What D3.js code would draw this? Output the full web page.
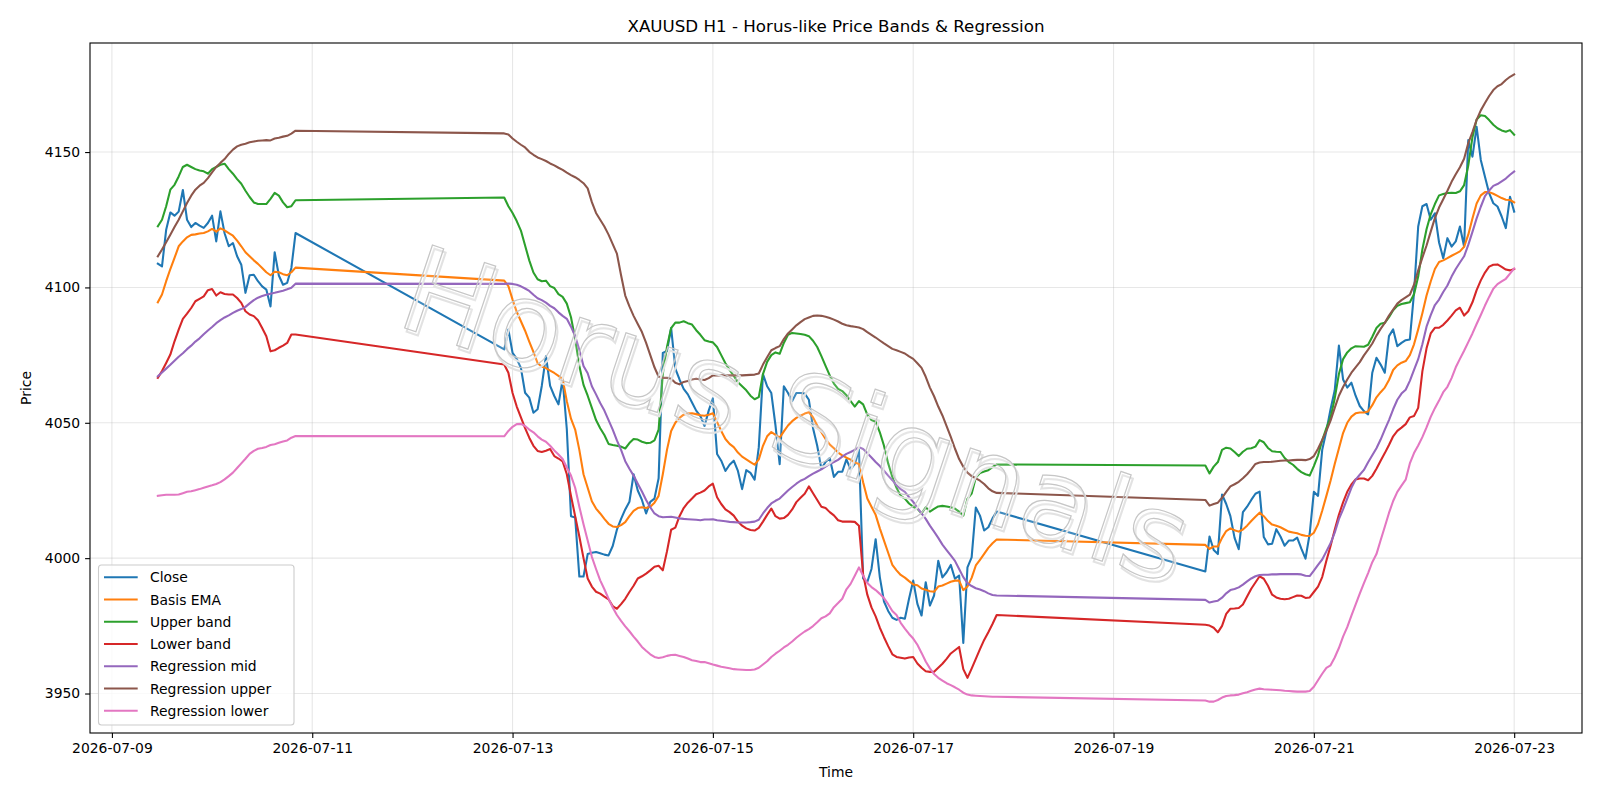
<!DOCTYPE html>
<html lang="en">
<head>
<meta charset="UTF-8">
<title>XAUUSD H1 - Horus-like Price Bands & Regression</title>
<script src="https://cdn.jsdelivr.net/npm/d3@7"></script>
<style>
    body { margin: 0; background: #fff; }
    svg text { font-family: 'DejaVu Sans', sans-serif; fill: #000; }
</style>
</head>
<body>
<svg id="chart" width="1600" height="800"></svg>
<script>
// trading sessions (UTC), one bar per hour inside each
const sessions = [
    ["2026-07-09T11:00:00Z", "2026-07-10T20:00:00Z"],
    ["2026-07-12T22:00:00Z", "2026-07-17T20:00:00Z"],
    ["2026-07-19T22:00:00Z", "2026-07-23T00:00:00Z"]
];

const xTicks = ["2026-07-09", "2026-07-11", "2026-07-13", "2026-07-15", "2026-07-17", "2026-07-19", "2026-07-21", "2026-07-23"];
const yTicks = [3950, 4000, 4050, 4100, 4150];

const closePrice = [
    // session 1
    4108.8, 4107.8, 4121.3, 4127.7, 4126.5, 4128, 4136, 4125, 4122.3, 4123.8,
    4122.8, 4122, 4123.8, 4126.5, 4117, 4128.1, 4120, 4115.2, 4116.4, 4111.5,
    4108.4, 4098, 4104.5, 4104.7, 4102.3, 4100.4, 4099.2, 4093, 4113, 4104.4,
    4101, 4101.7, 4107.2, 4120.1,
    // session 2
    4077.1, 4084.4, 4075.8, 4073.6, 4070.3, 4061.1, 4059.3, 4053.7, 4055, 4063.6,
    4074.6, 4063.6, 4059.9, 4056.8, 4066, 4047.6, 4015.5, 4015, 3993.2, 3993.2,
    4001.5, 4002, 4002.3, 4001.8, 4001.3, 4001, 4004.5, 4010.5, 4014.5, 4018,
    4020.8, 4031, 4025, 4021.5, 4016.5, 4020.8, 4022, 4029.5, 4075.8, 4076.5,
    4085, 4070, 4066, 4062.5, 4060.5, 4057.5, 4054.5, 4052.5, 4048.8, 4054.5,
    4059, 4038.5, 4036, 4032.2, 4034.5, 4036, 4032.2, 4025.5, 4032.5, 4031.5,
    4029, 4041, 4068, 4063.5, 4061, 4049, 4034.7, 4063.5, 4061, 4058,
    4061, 4061, 4060.8, 4058.5, 4048, 4041.5, 4033, 4035.5, 4037, 4030,
    4031.9, 4031.9, 4036.5, 4032.8, 4034.7, 4040, 3992.5, 3991.2, 3996, 4007,
    3993, 3984, 3980.5, 3978, 3977.2, 3978, 3977.6, 3985, 3991.7, 3983.1,
    3978.8, 3991.1, 3982.5, 3986.2, 3999, 3992.9, 3994.8, 3997.5, 3992.4, 3993.6,
    3968.7, 3996.6, 4000.3, 4018.7, 4015.7, 4010.2, 4011.4, 4014.7, 4017.2,
    // session 3
    3995.1, 4008, 4003, 4001.5, 4023.5, 4020, 4015.5, 4007.5, 4003.3, 4017,
    4019, 4021.5, 4023.8, 4024.6, 4007.8, 4005.1, 4005.3, 4010.7, 4008, 4004.6,
    4006.5, 4006.5, 4007.6, 4003.5, 3999.8, 4009, 4024.5, 4023, 4040, 4047,
    4055, 4062, 4078.5, 4066, 4063, 4064.8, 4060, 4056.2, 4054.3, 4053.1,
    4068.5, 4074, 4071.5, 4068.5, 4082, 4084.5, 4078.3, 4079.5, 4080.5, 4080.8,
    4098, 4122.5, 4130, 4130.8, 4125, 4127.4, 4116.6, 4110.8, 4118.2, 4115.1,
    4117, 4122.5, 4115.1, 4154.4, 4148.3, 4159.3, 4147.1, 4140.9, 4134.8, 4131.1,
    4129.9, 4126.2, 4121.9, 4133.5, 4128
];

const basisEma = [
    4094.5, 4097.4, 4102.3, 4106.8, 4110.9, 4115.2, 4117, 4118.5, 4119.4, 4119.6,
    4119.9, 4120.1, 4120.7, 4121.6, 4120.6, 4121.8, 4121.1, 4120.1, 4119.1, 4117.3,
    4115.2, 4113, 4111.5, 4110, 4108.7, 4107.2, 4105.6, 4104.5, 4105.8, 4105.6,
    4104.9, 4104.5, 4105.6, 4107.3,

    4102.5, 4100.5, 4095.5, 4091, 4087.5, 4084, 4080, 4076.2, 4072, 4070.8,
    4070.2, 4069.3, 4068.4, 4067.3, 4066.2, 4058, 4051.5, 4047.5, 4040, 4031,
    4026, 4021, 4018.3, 4016.5, 4014.5, 4012.7, 4011.7, 4011.5, 4012.2, 4013.3,
    4015.5, 4017.5, 4018.5, 4018.8, 4018.5, 4019, 4020.5, 4023, 4031, 4040,
    4047, 4050, 4051.8, 4053, 4053.4, 4053.5, 4053.2, 4052.8, 4052.6, 4053,
    4053.5, 4050.3, 4047, 4044, 4042.2, 4041, 4039, 4037.5, 4036.5, 4035.5,
    4034.5, 4036.5, 4041.5, 4045, 4046.6, 4045.5, 4044.5, 4046.8, 4049, 4050.6,
    4051.8, 4052.6, 4053.4, 4053.9, 4052, 4049, 4046.5, 4044, 4042, 4040.6,
    4039, 4038, 4037.1, 4036.4, 4035.3, 4034.8, 4028, 4022, 4019, 4016,
    4011, 4006.5, 4002, 3997.5, 3995.5, 3993.8, 3992.8, 3991.5, 3990.3, 3990,
    3988.8, 3988.3, 3987.8, 3987.6, 3989.5, 3989.9, 3990.6, 3991.3, 3991.7, 3991.7,
    3988.2, 3989.5, 3992.7, 3997.3, 3999.4, 4001.6, 4003.8, 4005.5, 4006.9,

    4004.9, 4003.4, 4004.3, 4004.3, 4007.5, 4010, 4011, 4010.3, 4009.8, 4010.6,
    4012, 4013.7, 4015.3, 4016.8, 4015.5, 4013.7, 4012.4, 4012, 4011.4, 4010.6,
    4009.8, 4009.5, 4009.2, 4008.6, 4008.3, 4008.2, 4009.4, 4012.5, 4017.5, 4023,
    4028.6, 4034.8, 4040.5, 4046.2, 4050, 4052.3, 4053.5, 4053.8, 4053.8, 4054.2,
    4056.5, 4059.4, 4061.3, 4063, 4065.8, 4069.5, 4071.2, 4072.2, 4072.8, 4075,
    4079, 4084.5, 4090.5, 4097, 4102.2, 4106.8, 4109.4, 4110, 4110.8, 4111.7,
    4112.5, 4113.3, 4115, 4119.5, 4125.5, 4131, 4134, 4135.2, 4135.2, 4134.6,
    4133.8, 4133, 4132.4, 4132.3, 4131.4
];

const upperBand = [
    4122.6, 4125, 4130, 4136.1, 4137.9, 4141, 4144.5, 4145.3, 4144.5, 4143.7,
    4143.2, 4142.9, 4142, 4143.7, 4144.5, 4145.3, 4145.7, 4143.7, 4142, 4140,
    4138.3, 4135.7, 4133.4, 4131.4, 4130.8, 4130.8, 4130.8, 4132.7, 4134.9, 4133.9,
    4131.4, 4129.6, 4130, 4132.2,

    4133.2, 4130, 4127.5, 4124.5, 4121, 4115.5, 4110, 4105.5, 4103, 4102.3,
    4102.5, 4100.5, 4099.8, 4097.5, 4096.5, 4094, 4089, 4081, 4071, 4064,
    4060, 4055.5, 4051, 4048, 4045.5, 4042.2, 4041.8, 4041.5, 4041.2, 4040.5,
    4042.5, 4044, 4043.8, 4043, 4042.5, 4042.6, 4043.5, 4047.5, 4068, 4078,
    4085, 4087, 4087, 4087.5, 4086.8, 4086.3, 4084.2, 4082.5, 4080.5, 4080,
    4079.7, 4078, 4075, 4072, 4069.5, 4067.3, 4065, 4063.5, 4062, 4060,
    4058.7, 4059.5, 4068, 4072.5, 4075, 4076, 4075.5, 4079.5, 4082.5, 4083.2,
    4083, 4082.8, 4082.5, 4082, 4080.3, 4078, 4074.6, 4071, 4067.5, 4064.5,
    4062.5, 4061.7, 4060.2, 4058, 4056, 4058, 4056.8, 4053, 4051, 4050.4,
    4046.5, 4041.5, 4035, 4030, 4026, 4023, 4022, 4020.2, 4019, 4018.2,
    4016.5, 4018.8, 4017.2, 4018.2, 4019.1, 4019.3, 4019.1, 4018.8, 4018.3, 4017.2,
    4015.7, 4021.9, 4023.8, 4029.8, 4031.4, 4032, 4032.5, 4033.6, 4034.6,

    4034.2, 4031.3, 4033.8, 4035.5, 4040, 4040.8, 4040.5, 4039.2, 4037.7, 4039.3,
    4040.4, 4040.6, 4041.2, 4043.6, 4042.8, 4040.7, 4039.5, 4039.3, 4039.2, 4037,
    4035.5, 4034.5, 4033, 4031.8, 4031, 4030.5, 4034, 4038, 4043.5, 4048,
    4052, 4059, 4068, 4073.5, 4076, 4077.5, 4078.3, 4078.2, 4078.1, 4078.8,
    4081.8, 4085, 4086.6, 4086.9, 4089, 4091.6, 4093.2, 4093.9, 4094.2, 4094.5,
    4097.5, 4104, 4114, 4121.5, 4127, 4130.8, 4134, 4134.5, 4134.9, 4135,
    4134.9, 4135.5, 4137.8, 4145, 4155.5, 4162, 4163.6, 4163.3, 4161.8, 4160.1,
    4158.8, 4158, 4157.5, 4158.1, 4156.4
];

const lowerBand = [
    4066.6, 4069.1, 4072.1, 4075.2, 4080.1, 4084.4, 4088.4, 4090.3, 4092.4, 4094.9,
    4095.8, 4096.7, 4099, 4099.4, 4097, 4098.2, 4097.6, 4097.4, 4097.4, 4096.1,
    4094.3, 4091.2, 4090, 4089.4, 4087.9, 4085, 4082, 4076.4, 4076.8, 4077.7,
    4078.5, 4079.5, 4082.6, 4082.6,

    4071.5, 4068.5, 4061, 4056, 4052, 4048, 4044.5, 4041.5, 4039.6, 4039.2,
    4039.7, 4040.3, 4037.7, 4036.8, 4035.7, 4031, 4023, 4015.5, 4008, 4000,
    3992.5, 3989.5, 3987.6, 3986.9, 3985.8, 3984.8, 3982.3, 3981.3, 3983, 3985,
    3987.5, 3989.8, 3992.5, 3993.3, 3994.3, 3995.5, 3996.8, 3997.2, 3995.5, 4002.5,
    4010.5, 4011.3, 4015.5, 4018.5, 4020.5, 4022, 4023.6, 4024.2, 4025, 4026.5,
    4027.5, 4022.5, 4020, 4018, 4017, 4015.7, 4013.5, 4012, 4011, 4010.4,
    4010.2, 4011.2, 4013.5, 4016, 4018.3, 4015.5, 4014.6, 4014.8, 4016, 4018,
    4020.7, 4022.3, 4023.8, 4026.5, 4024, 4021.5, 4019, 4018.5, 4017, 4015.8,
    4014, 4013.5, 4013.5, 4013.5, 4013.4, 4012, 3994, 3986.5, 3981.8, 3978.5,
    3974.3, 3970.8, 3967.5, 3964.5, 3963.5, 3963.2, 3962.9, 3963.3, 3963.5, 3961.1,
    3959.5, 3958.2, 3958, 3958, 3959.5, 3961, 3962.8, 3964.8, 3966, 3967.2,
    3959, 3955.8, 3959.2, 3962.8, 3966.4, 3969.8, 3972.6, 3975.7, 3979,

    3975.4, 3975.1, 3974.3, 3972.6, 3975, 3979.4, 3981.3, 3981.4, 3981.6, 3982.9,
    3985.8, 3988.7, 3991, 3993.3, 3992.4, 3989.8, 3986.5, 3985.5, 3985, 3984.8,
    3985, 3985.6, 3986.2, 3986.1, 3985.3, 3985.5, 3987.5, 3989.5, 3993, 3999,
    4004.5, 4010.5, 4016, 4020.6, 4024.5, 4027.2, 4029.1, 4029.4, 4029.4, 4028.8,
    4030.4, 4033, 4036, 4038.8, 4041.8, 4045, 4047, 4048.2, 4049.5, 4052,
    4052.5, 4055.5, 4069, 4077.5, 4083, 4085.1, 4085.1, 4086.2, 4087.8, 4089.6,
    4091.5, 4092.5, 4089.6, 4091.2, 4094.5, 4099, 4102.6, 4105.5, 4107.7, 4108.4,
    4108.5, 4107.6, 4106.6, 4106.3, 4106.8
];

const regMid = [
    4067.2, 4068.6, 4070, 4071.4, 4072.9, 4074.4, 4075.7, 4077.2, 4078.5, 4080,
    4081.2, 4082.7, 4084.1, 4085.4, 4086.8, 4087.9, 4088.9, 4089.7, 4090.6, 4091.4,
    4092, 4092.8, 4094.1, 4095.3, 4096.2, 4096.8, 4097.3, 4097.7, 4098, 4098.4,
    4098.8, 4099.3, 4099.9, 4101.4,

    4101.3, 4101.4, 4101.3, 4101, 4100.4, 4099.6, 4098.7, 4097.3, 4096, 4095.3,
    4094.4, 4093.2, 4092.3, 4090.8, 4089.5, 4088.4, 4085.5, 4082, 4077, 4071,
    4068.3, 4063.5, 4060.5, 4057.3, 4054.5, 4051, 4047.5, 4043.5, 4040, 4035.8,
    4033, 4030.5, 4027.5, 4024.6, 4021.5, 4018.8, 4016.5, 4015.5, 4015.1, 4015.2,
    4015.3, 4015, 4014.7, 4014.5, 4014.4, 4014.3, 4014.2, 4014, 4014.3, 4014.3,
    4014.4, 4014, 4013.8, 4013.6, 4013.4, 4013.3, 4013.2, 4013.2, 4013.2, 4013.3,
    4013.5, 4014.2, 4016.5, 4018.5, 4020.2, 4021.2, 4022, 4023.5, 4025, 4026.3,
    4027.5, 4028.6, 4029.3, 4030.3, 4031.2, 4032, 4032.8, 4033.8, 4034.8, 4035.5,
    4036.3, 4037.5, 4038.5, 4039.2, 4040, 4041, 4040.3, 4038.8, 4037.2, 4035.5,
    4034, 4032.3, 4030.5, 4028.8, 4026.9, 4025.5, 4024.5, 4022.5, 4020.8, 4018.6,
    4016.5, 4014.5, 4012, 4009.8, 4007.5, 4005, 4003, 4001, 3999, 3996,
    3993, 3990.8, 3989.7, 3988.9, 3988.4, 3987.8, 3987, 3986.4, 3986.2,

    3984.6, 3983.6, 3984, 3984.3, 3985.4, 3987, 3988.2, 3988.6, 3989.2, 3990.2,
    3991.4, 3992.5, 3993.3, 3993.8, 3993.9, 3993.9, 3994, 3994, 3994.1, 3994.1,
    3994.1, 3994.1, 3994.1, 3994, 3993.5, 3993.4, 3995.4, 3997.5, 3999.5, 4002.5,
    4005.5, 4009.4, 4014.4, 4018, 4022, 4026, 4029, 4030.8, 4032.6, 4035.4,
    4038, 4040.6, 4043.8, 4047.5, 4051, 4055, 4058.5, 4060.8, 4062.2, 4065.5,
    4069.5, 4073.5, 4079, 4085.5, 4089.8, 4093.5, 4095.5, 4098.3, 4100.7, 4104,
    4106.8, 4109.2, 4111.5, 4115.7, 4120.5, 4125.5, 4129.8, 4133.7, 4135.8, 4137.5,
    4138.2, 4139.2, 4140.2, 4141.6, 4142.8
];

const regUpper = [
    4111.5, 4114, 4116.7, 4119.5, 4122.3, 4125, 4128.1, 4131.2, 4133.9, 4136.1,
    4137.6, 4138.6, 4140.4, 4142.5, 4144.5, 4146, 4147.4, 4149.3, 4150.9, 4152.1,
    4152.7, 4153.1, 4153.6, 4153.9, 4154.2, 4154.3, 4154.4, 4154.3, 4155, 4155.3,
    4155.7, 4156, 4156.8, 4157.9,

    4156.9, 4156.5, 4155, 4153.8, 4152.7, 4151.7, 4150.1, 4149, 4148, 4147.4,
    4146.7, 4145.8, 4145.1, 4144.2, 4143.4, 4142.4, 4141.5, 4140.7, 4139.7, 4138.5,
    4136.6, 4131.5, 4127.5, 4125, 4122.5, 4119.5, 4116, 4112.5, 4104.5, 4097,
    4093, 4089.5, 4086.5, 4083.5, 4079.5, 4075, 4070.5, 4067, 4066.6, 4066.6,
    4066.3, 4064.8, 4064.2, 4065.1, 4065.4, 4066, 4066.3, 4066, 4065.8, 4066.5,
    4067.5, 4067.5, 4067.5, 4067.5, 4067.5, 4067.5, 4067.5, 4067.5, 4067.6, 4067.7,
    4067.8, 4068.2, 4071.5, 4074.2, 4076.8, 4077.6, 4078.3, 4080.9, 4083, 4084.5,
    4086, 4087.2, 4088.3, 4088.9, 4089.5, 4089.6, 4089.5, 4089.2, 4088.7, 4088.1,
    4087.4, 4086.6, 4086, 4085.7, 4085.5, 4085.2, 4084.6, 4083.5, 4082.5, 4081.5,
    4080.4, 4079.3, 4078.3, 4077.3, 4076.8, 4076.2, 4075.6, 4074.5, 4073.6, 4072,
    4070.3, 4067, 4063, 4059.8, 4056, 4052.7, 4048.8, 4044.8, 4040.5, 4036.6,
    4033.8, 4031.6, 4030.3, 4029.5, 4028.6, 4027.4, 4025.8, 4024.7, 4024.1,

    4021.5, 4019.4, 4020, 4020.5, 4022.3, 4024.5, 4026.5, 4027.3, 4028.2, 4029.5,
    4031, 4032.8, 4034.8, 4035.3, 4035.5, 4035.5, 4035.6, 4035.8, 4036, 4036.1,
    4036.1, 4036.2, 4036.3, 4036.3, 4036.2, 4036.6, 4037.7, 4040.4, 4043.7, 4047,
    4050.8, 4055.5, 4060, 4063.2, 4066, 4068.5, 4070.5, 4072.4, 4074.9, 4077,
    4079.3, 4082.2, 4084.7, 4086.9, 4089.6, 4091.8, 4094, 4095.3, 4096.3, 4097.3,
    4101, 4106.3, 4111, 4115.5, 4120.6, 4125.6, 4129.5, 4132.6, 4135.7, 4139,
    4141.8, 4144.4, 4147.5, 4153.3, 4157.4, 4161.9, 4165.4, 4168.1, 4170.7, 4172.9,
    4174.3, 4175.1, 4176.6, 4177.8, 4178.7
];

const regLower = [
    4023, 4023.2, 4023.4, 4023.4, 4023.4, 4023.5, 4024, 4024.5, 4024.7, 4025.1,
    4025.5, 4026, 4026.5, 4026.9, 4027.4, 4028.1, 4029.1, 4030.3, 4031.6, 4033.3,
    4035, 4036.7, 4038.5, 4039.6, 4040.4, 4040.7, 4041.1, 4041.8, 4042.1, 4042.6,
    4043.1, 4043.5, 4044.5, 4045.1,

    4045, 4047, 4048.5, 4049.5, 4049.6, 4048.8, 4047.5, 4046.5, 4045, 4043.8,
    4043, 4041.5, 4039.8, 4038.3, 4036.6, 4033.5, 4030.5, 4026, 4019, 4012.5,
    4006.5, 4000.5, 3996, 3991.8, 3988.5, 3985, 3981.8, 3979, 3976.8, 3974.8,
    3973, 3971, 3969.2, 3967.2, 3965.8, 3964.5, 3963.5, 3963.1, 3963.4, 3963.9,
    3964.2, 3964.3, 3963.9, 3963.5, 3962.9, 3962.3, 3962, 3961.6, 3961.6, 3961.2,
    3960.7, 3960.3, 3959.9, 3959.6, 3959.3, 3959, 3958.9, 3958.8, 3958.7, 3958.7,
    3958.9, 3959.5, 3960.7, 3961.9, 3963.5, 3964.7, 3965.8, 3967, 3968, 3969.2,
    3970.6, 3971.8, 3972.9, 3973.8, 3974.9, 3976.3, 3977.8, 3978.5, 3979.6, 3981.9,
    3983.4, 3985, 3988.5, 3990.5, 3993.5, 3996.6, 3993.5, 3990.8, 3989.3, 3988.2,
    3986.8, 3985.2, 3983, 3980.5, 3979, 3976.1, 3974, 3972, 3970.3, 3968,
    3965, 3961.8, 3959.3, 3957.2, 3955.8, 3954.8, 3953.8, 3953.1, 3952.3, 3951.4,
    3950.3, 3949.6, 3949.3, 3949.2, 3949.1, 3949, 3948.9, 3948.8, 3948.8,

    3947.4, 3947, 3947, 3947.6, 3948.5, 3949.1, 3949.3, 3949.4, 3949.6, 3950.1,
    3950.5, 3951, 3951.5, 3951.8, 3951.6, 3951.5, 3951.4, 3951.3, 3951.2, 3951,
    3950.9, 3950.8, 3950.7, 3950.7, 3950.7, 3950.9, 3952.5, 3954.9, 3957.3, 3959.5,
    3960.4, 3963.3, 3966.8, 3971, 3974.5, 3978.8, 3982.8, 3986.9, 3990.8, 3994.5,
    3998.5, 4001.5, 4006.6, 4011.6, 4016.7, 4021.1, 4024.5, 4026.8, 4029, 4035,
    4038.8, 4041.6, 4044.7, 4048.3, 4052.2, 4055.4, 4058.2, 4061.3, 4063.3, 4066.5,
    4070.5, 4073.6, 4076.6, 4079.8, 4083, 4086.5, 4089.8, 4093.3, 4096.5, 4099.5,
    4101.2, 4102.2, 4103.2, 4105.1, 4107
];

const seriesNames = ["Close", "Basis EMA", "Upper band", "Lower band", "Regression mid", "Regression upper", "Regression lower"];
const seriesValues = [closePrice, basisEma, upperBand, lowerBand, regMid, regUpper, regLower];
const colors = ["#1f77b4", "#ff7f0e", "#2ca02c", "#d62728", "#9467bd", "#8c564b", "#e377c2"];

// hourly timestamps for every session
const times = sessions.flatMap(([a, b]) =>
    d3.utcHour.range(new Date(a), d3.utcHour.offset(new Date(b), 1)));

const plotLeft = 90, plotRight = 1582, plotTop = 43, plotBottom = 733;
const svg = d3.select("#chart");

const t0 = times[0], t1 = times[times.length - 1];
const tPad = (t1 - t0) * 0.05;
const x = d3.scaleUtc()
    .domain([new Date(+t0 - tPad), new Date(+t1 + tPad)])
    .range([plotLeft, plotRight]);

const allVals = seriesValues.flat();
const vMin = d3.min(allVals), vMax = d3.max(allVals);
const vPad = (vMax - vMin) * 0.05;
const y = d3.scaleLinear()
    .domain([vMin - vPad, vMax + vPad])
    .range([plotBottom, plotTop]);

const xTickDates = xTicks.map(s => new Date(s + "T00:00:00Z"));

// grid
const grid = svg.append("g").attr("stroke", "#b0b0b0").attr("stroke-opacity", 0.3).attr("stroke-width", 1.1);
grid.selectAll("line.gx").data(xTickDates).enter().append("line")
    .attr("class", "gx")
    .attr("x1", d => x(d)).attr("x2", d => x(d))
    .attr("y1", plotTop).attr("y2", plotBottom);
grid.selectAll("line.gy").data(yTicks).enter().append("line")
    .attr("class", "gy")
    .attr("x1", plotLeft).attr("x2", plotRight)
    .attr("y1", d => y(d)).attr("y2", d => y(d));

// series; weekend gaps simply join the last and first bar
const line = d3.line()
    .x(d => x(d.t))
    .y(d => y(d.v));

seriesValues.forEach((vals, k) => {
    const pts = vals.map((v, i) => ({ t: times[i], v: v }));
    svg.append("path")
        .datum(pts)
        .attr("fill", "none")
        .attr("stroke", colors[k])
        .attr("stroke-width", 2.08)
        .attr("stroke-linejoin", "round")
        .attr("stroke-linecap", "square")
        .attr("d", line);
});

// watermark
const wm = svg.append("g").attr("transform", "translate(796,415) rotate(18.5)");
wm.append("text")
    .attr("x", 3).attr("y", 3)
    .attr("text-anchor", "middle")
    .attr("dominant-baseline", "central")
    .style("font-size", "120px")
    .style("fill", "none")
    .style("stroke", "#e2e2e2")
    .style("stroke-width", 2)
    .text("Horus Signals");
wm.append("text")
    .attr("text-anchor", "middle")
    .attr("dominant-baseline", "central")
    .style("font-size", "120px")
    .style("fill", "#ffffff")
    .style("fill-opacity", 0.15)
    .style("stroke", "#c6c6c6")
    .style("stroke-width", 1.2)
    .text("Horus Signals");

// axes
const xAxis = d3.axisBottom(x)
    .tickValues(xTickDates)
    .tickFormat(d3.utcFormat("%Y-%m-%d"))
    .tickSize(4.9).tickPadding(4.9).tickSizeOuter(0);
const yAxis = d3.axisLeft(y)
    .tickValues(yTicks)
    .tickFormat(d3.format("d"))
    .tickSize(4.9).tickPadding(4.9).tickSizeOuter(0);

const gx = svg.append("g").attr("transform", `translate(0,${plotBottom})`).call(xAxis);
const gy = svg.append("g").attr("transform", `translate(${plotLeft},0)`).call(yAxis);
[gx, gy].forEach(g => {
    g.select(".domain").remove();
    g.selectAll(".tick line").attr("stroke", "#000").attr("stroke-width", 1.1);
    g.selectAll(".tick text").style("font-size", "13.9px").style("font-family", "'DejaVu Sans', sans-serif").attr("fill", "#000");
});

svg.append("rect")
    .attr("x", plotLeft).attr("y", plotTop)
    .attr("width", plotRight - plotLeft).attr("height", plotBottom - plotTop)
    .attr("fill", "none").attr("stroke", "#000").attr("stroke-width", 1.1);

// labels
svg.append("text")
    .attr("x", (plotLeft + plotRight) / 2).attr("y", 26)
    .attr("text-anchor", "middle").attr("dominant-baseline", "central")
    .style("font-size", "16.7px")
    .text("XAUUSD H1 - Horus-like Price Bands & Regression");
svg.append("text")
    .attr("x", (plotLeft + plotRight) / 2).attr("y", 772)
    .attr("text-anchor", "middle").attr("dominant-baseline", "central")
    .style("font-size", "13.9px")
    .text("Time");
svg.append("text")
    .attr("transform", `translate(26,${(plotTop + plotBottom) / 2}) rotate(-90)`)
    .attr("text-anchor", "middle").attr("dominant-baseline", "central")
    .style("font-size", "13.9px")
    .text("Price");

// legend
const legend = svg.append("g");
legend.append("rect")
    .attr("x", 98.5).attr("y", 565)
    .attr("width", 195.5).attr("height", 160)
    .attr("rx", 3)
    .attr("fill", "#fff").attr("fill-opacity", 0.8)
    .attr("stroke", "#cccccc").attr("stroke-width", 1.1);
seriesNames.forEach((name, k) => {
    const cy = 577.3 + k * 22.24;
    legend.append("line")
        .attr("x1", 104).attr("x2", 137.7)
        .attr("y1", cy).attr("y2", cy)
        .attr("stroke", colors[k]).attr("stroke-width", 2.08);
    legend.append("text")
        .attr("x", 150).attr("y", cy)
        .attr("dominant-baseline", "central")
        .style("font-size", "13.9px")
        .text(name);
});
</script>
</body>
</html>
